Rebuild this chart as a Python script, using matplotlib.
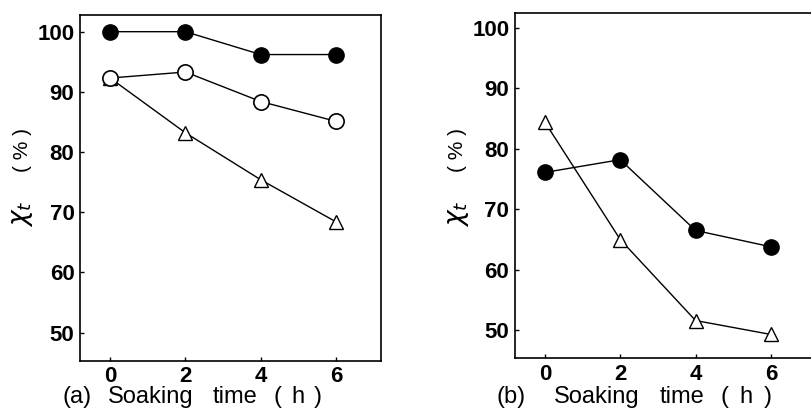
import matplotlib
matplotlib.use('Agg')
import numpy as np
from matplotlib import pyplot as plt

hours = [0, 2, 4, 6]
# panel (a)
a_filled = [100.0, 100.0, 96.2, 96.2]
a_open = [92.3, 93.3, 88.4, 85.1]
a_tri = [92.3, 83.2, 75.4, 68.4]
# panel (b)
b_filled = [76.1, 78.2, 66.5, 63.8]
b_tri = [84.4, 65.0, 51.6, 49.3]
yticks = [50, 60, 70, 80, 90, 100]
xticks = [0, 2, 4, 6]

fig = plt.figure(figsize=(8.12, 4.12), dpi=100)

def style(ax, ylim):
    ax.set_xlim(-0.8, 7.2)
    ax.set_ylim(*ylim)
    ax.set_xticks(xticks)
    ax.set_yticks(yticks)
    ax.tick_params(direction='in', length=3, width=1, labelsize=16, pad=4)
    for lab in ax.get_xticklabels() + ax.get_yticklabels():
        lab.set_fontweight('bold')
        lab.set_family('Liberation Sans')
    for s in ax.spines.values():
        s.set_linewidth(1.2)

ax1 = fig.add_axes([0.0985, 0.124, 0.371, 0.840])
ax1.plot(hours, a_filled, 'k-', lw=1, marker='o', ms=11, mfc='black', mec='black', zorder=3)
ax1.plot(hours, a_tri, 'k-', lw=1, marker='^', ms=10, mfc='white', mec='black', zorder=2)
ax1.plot(hours, a_open, 'k-', lw=1, marker='o', ms=11, mfc='white', mec='black', mew=1.2, zorder=3)
style(ax1, (45.3, 102.8))

ax2 = fig.add_axes([0.634, 0.131, 0.371, 0.838])
ax2.plot(hours, b_tri, 'k-', lw=1, marker='^', ms=10, mfc='white', mec='black', zorder=2)
ax2.plot(hours, b_filled, 'k-', lw=1, marker='o', ms=11, mfc='black', mec='black', zorder=3)
style(ax2, (45.4, 102.5))

# x-axis captions, word by word to copy the wide letter spacing
lbl = dict(fontsize=17, family='Liberation Sans', color='black',
           va='baseline', ha='left')
ytxt = 1 - 403 / 412
words_a = [('(a)', 63), ('Soaking', 108), ('time', 213), ('(', 274), ('h', 291), (')', 314)]
words_b = [('(b)', 497), ('Soaking', 554), ('time', 660), ('(', 721), ('h', 739), (')', 764)]
for w, x in words_a + words_b:
    fig.text(x / 812, ytxt, w, **lbl)

ylbl = dict(rotation=90, ha='center', va='center')
for x in (22, 458):
    fig.text(x / 812, 1 - 150 / 412, '( % )', fontsize=15, family='Liberation Sans', **ylbl)
    fig.text(x / 812, 1 - 214 / 412, r'$\chi_t$', fontsize=19, **ylbl)

fig.savefig('out.png', dpi=100)
